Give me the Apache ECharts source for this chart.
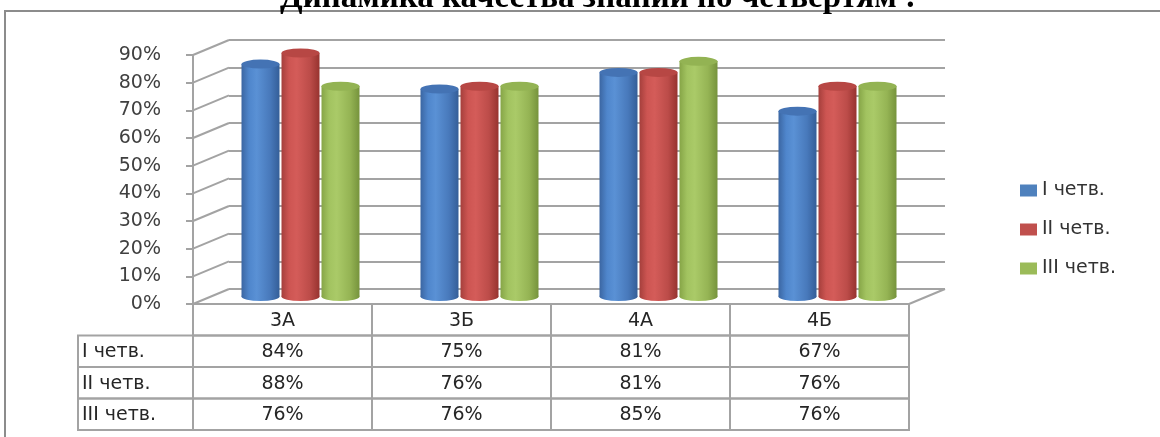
<!DOCTYPE html>
<html>
<head>
<meta charset="utf-8">
<script src="https://cdn.jsdelivr.net/npm/echarts@6/dist/echarts.min.js"></script>
<style>
html, body { margin: 0; padding: 0; background: #fff; }
#chart { width: 1160px; height: 437px; }
</style>
</head>
<body>
<div id="chart"></div>
<script>
var titleText = 'Динамика качества знаний по четвертям :';
var categories = ['3А', '3Б', '4А', '4Б'];
var quarters = ['I четв.', 'II четв.', 'III четв.'];
var q1 = [84, 75, 81, 67];
var q2 = [88, 76, 81, 76];
var q3 = [76, 76, 85, 76];
var yTicks = [0, 10, 20, 30, 40, 50, 60, 70, 80, 90];

var values = [q1, q2, q3];

// 3d look: depth offset between front axis and back wall
var DX = 36, DY = -15;
var ROW_H = 31.5;
var LABEL_W = 115;
var LINE = '#A3A3A3';
var FONT = '"DejaVu Sans", Verdana, sans-serif';

var flat = ['#4F81BD', '#C0504D', '#9BBB59'];
var tops = ['#4473B4', '#B74744', '#93B353'];
var shades = [
  ['#3B66A2', '#4F86CC', '#5A91D5', '#4879BB', '#345E98'],
  ['#A53F3C', '#CD5552', '#D45C59', '#BC4C49', '#97332F'],
  ['#86A547', '#A2C360', '#AACA68', '#95B454', '#76933C']
];

function cylinder(s) {
  return function (params, api) {
    var top = api.coord([api.value(0), api.value(1)]);
    var base = api.coord([api.value(0), 0]);
    var cx = top[0] + (s - 1) * 40;
    var r = 19, ry = 4.5;
    var grad = new echarts.graphic.LinearGradient(0, 0, 1, 0, [
      { offset: 0, color: shades[s][0] },
      { offset: 0.2, color: shades[s][1] },
      { offset: 0.4, color: shades[s][2] },
      { offset: 0.75, color: shades[s][3] },
      { offset: 1, color: shades[s][4] }
    ]);
    return {
      type: 'group',
      children: [
        { type: 'circle', x: cx, y: base[1], scaleY: ry / r, shape: { cx: 0, cy: 0, r: r }, style: { fill: grad } },
        { type: 'rect', shape: { x: cx - r, y: top[1], width: 2 * r, height: base[1] - top[1] }, style: { fill: grad } },
        { type: 'circle', x: cx, y: top[1], scaleY: ry / r, shape: { cx: 0, cy: 0, r: r }, style: { fill: tops[s] } }
      ]
    };
  };
}

function diagonals(params, api) {
  var p = api.coord([0, api.value(1)]);
  var x = params.coordSys.x;
  var kids = [{ type: 'line', shape: { x1: x, y1: p[1], x2: x + DX, y2: p[1] + DY }, style: { stroke: LINE, lineWidth: 2 } }];
  if (api.value(1) === 0) {
    var xr = x + params.coordSys.width;
    kids.push({ type: 'line', shape: { x1: xr, y1: p[1], x2: xr + DX, y2: p[1] + DY }, style: { stroke: LINE, lineWidth: 2 } });
  }
  return { type: 'group', children: kids };
}

function cell(x, y, w, text, align) {
  return [
    { type: 'rect', shape: { x: x, y: y, width: w, height: ROW_H }, style: { fill: 'none', stroke: LINE, lineWidth: 2 } },
    { type: 'text', x: align === 'left' ? x + 4 : x + w / 2, y: y + ROW_H / 2 + 1,
      style: { text: text, font: '19px ' + FONT, fill: '#262626', align: align || 'center', verticalAlign: 'middle' } }
  ];
}

function tableCol(params, api) {
  var i = api.value(0);
  var c = api.coord([i, 0]);
  var band = api.size([1, 0])[0];
  var x0 = c[0] - band / 2;
  var y0 = c[1];
  var kids = cell(x0, y0, band, categories[i]);
  for (var r = 0; r < values.length; r++) {
    kids = kids.concat(cell(x0, y0 + ROW_H * (r + 1), band, values[r][i] + '%'));
    if (i === 0) {
      kids = kids.concat(cell(x0 - LABEL_W, y0 + ROW_H * (r + 1), LABEL_W, quarters[r], 'left'));
    }
  }
  return { type: 'group', children: kids };
}

var chart = echarts.init(document.getElementById('chart'));

var series = [
  {
    type: 'custom', xAxisIndex: 0, yAxisIndex: 0, silent: true,
    data: yTicks.map(function (v) { return [0, v]; }),
    renderItem: diagonals, z: 1
  },
  {
    type: 'custom', xAxisIndex: 0, yAxisIndex: 0, silent: true,
    data: categories.map(function (c, i) { return [i]; }),
    renderItem: tableCol, z: 1
  }
];
quarters.forEach(function (name, s) {
  series.push({
    name: name,
    type: 'custom', xAxisIndex: 2, yAxisIndex: 2,
    itemStyle: { color: flat[s] },
    data: categories.map(function (c, i) { return [i, values[s][i]]; }),
    renderItem: cylinder(s), z: 3
  });
});

var option = {
  animation: false,
  backgroundColor: '#fff',
  graphic: [
    { type: 'rect', z: 0, shape: { x: 5, y: 11, width: 1200, height: 500 }, style: { fill: 'none', stroke: '#8C8C8C', lineWidth: 2 } },
    { type: 'text', z: 10, x: 598, y: 15,
      style: { text: titleText, font: 'bold 33px "Liberation Serif", "Times New Roman", serif', fill: '#000', align: 'center', verticalAlign: 'bottom' } }
  ],
  legend: {
    data: quarters,
    orient: 'vertical',
    left: 1015, top: 176,
    icon: 'rect', itemWidth: 17, itemHeight: 12, itemGap: 20,
    textStyle: { fontFamily: FONT, fontSize: 19, color: '#333', lineHeight: 19 }
  },
  grid: [
    { left: 193, top: 55, width: 716, height: 249 },
    { left: 229, top: 40, width: 716, height: 249 },
    { left: 211, top: 47.5, width: 716, height: 249 }
  ],
  xAxis: [
    { type: 'category', gridIndex: 0, data: categories, show: false },
    { type: 'category', gridIndex: 1, data: categories, show: false },
    { type: 'category', gridIndex: 2, data: categories, show: false }
  ],
  yAxis: [
    {
      type: 'value', gridIndex: 0, min: 0, max: 90, interval: 10,
      axisLine: { show: true, lineStyle: { color: LINE, width: 2 } },
      axisTick: { show: true, length: 7, lineStyle: { color: LINE, width: 2 } },
      axisLabel: { formatter: '{value}%', margin: 32, fontFamily: FONT, fontSize: 19, color: '#404040' },
      splitLine: { show: false }
    },
    {
      type: 'value', gridIndex: 1, min: 0, max: 90, interval: 10,
      axisLine: { show: false }, axisTick: { show: false }, axisLabel: { show: false },
      splitLine: { show: true, lineStyle: { color: LINE, width: 2 } }
    },
    { type: 'value', gridIndex: 2, min: 0, max: 90, show: false, splitLine: { show: false } }
  ],
  series: series
};

chart.setOption(option);
</script>
</body>
</html>
